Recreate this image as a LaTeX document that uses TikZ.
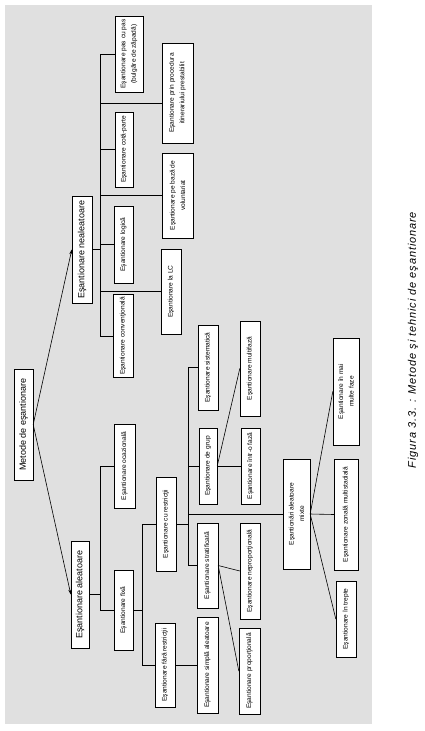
\documentclass[tikz,border=0pt]{standalone}
\usepackage{fontspec}
\setmainfont{Liberation Sans}
\usetikzlibrary{arrows.meta}
\definecolor{bggray}{HTML}{E0E0E0}
\tikzset{
  box/.style={draw, fill=white, rotate=90, inner sep=1pt, align=center,
    font=\fontsize{6.6}{10.5}\selectfont},
  bigbox/.style={box, font=\fontsize{9}{11}\selectfont},
  link/.style={line width=0.6pt},
  pick/.style={line width=0.6pt, -{Stealth[length=5pt,width=3pt]}}
}
\begin{document}
\begin{tikzpicture}[x=1pt, y=-1pt]
                \useasboundingbox (0,0) rectangle (424,731);
                % Background
                \fill[bggray] (5,5) rectangle (372,724);
                % Root and the two families
                \node[bigbox, minimum width=111pt, minimum height=19pt] (metode) at (23.5,424.5) {Metode de eşantionare};
                \node[bigbox, minimum width=107pt, minimum height=20pt] (neal) at (82,249.5) {Eşantionare nealeatoare};
                \node[bigbox, minimum width=107pt, minimum height=18pt] (aleat) at (80,594.5) {Eşantionare aleatoare};
                % Non-random techniques
                \node[box, minimum width=76pt, minimum height=28pt] (pas) at (129,54) {Eşantionare pas cu pas\\(bulgăre de zăpadă)};
                \node[box, minimum width=100pt, minimum height=31pt] (itin) at (177.5,93) {Eşantionare prin procedura\\itinerariului prestabilit};
                \node[box, minimum width=75pt, minimum height=18pt] (cota) at (124,149.5) {Eşantionare cotă-parte};
                \node[box, minimum width=85pt, minimum height=31pt] (volunt) at (177.5,195.5) {Eşantionare pe bază de\\voluntariat};
                \node[box, minimum width=77pt, minimum height=19pt] (logica) at (123.5,244.5) {Eşantionare logică};
                \node[box, minimum width=85pt, minimum height=20pt] (lc) at (171,291.5) {Eşantionare la LC};
                \node[box, minimum width=83pt, minimum height=20pt] (conv) at (123,336) {Eşantionare convenţională};
                % Random techniques
                \node[box, minimum width=84pt, minimum height=21pt] (ocaz) at (124.5,466) {Eşantionare ocazională};
                \node[box, minimum width=80pt, minimum height=19pt] (fixa) at (123.5,610) {Eşantionare fixă};
                \node[box, minimum width=94pt, minimum height=20pt] (cur) at (166,524) {Eşantionare cu restricţii};
                \node[box, minimum width=84pt, minimum height=20pt] (farar) at (165,665) {Eşantionare fără restricţii};
                \node[box, minimum width=85pt, minimum height=20pt] (sist) at (208,367.5) {Eşantionare sistematică};
                \node[box, minimum width=76pt, minimum height=18pt] (grup) at (208,466) {Eşantionare de grup};
                \node[box, minimum width=85pt, minimum height=21pt] (strat) at (207.5,565.5) {Eşantionare stratificată};
                \node[box, minimum width=96pt, minimum height=21pt] (simpla) at (207.5,665) {Eşantionare simplă aleatoare};
                \node[box, minimum width=95pt, minimum height=20pt] (multi) at (250,368.5) {Eşantionare multifază};
                \node[box, minimum width=76pt, minimum height=19pt] (ofaza) at (250.5,466) {Eşantionare într-o fază};
                \node[box, minimum width=96pt, minimum height=20pt] (neprop) at (250,571) {Eşantionare neproporţională};
                \node[box, minimum width=86pt, minimum height=21pt] (prop) at (249.5,671) {Eşantionare proporţională};
                \node[box, minimum width=110pt, minimum height=27pt] (mixte) at (296.5,514) {Eşantionări aleatoare\\mixte};
                \node[box, minimum width=107pt, minimum height=26pt] (maimulte) at (346,391.5) {Eşantionare în mai\\multe faze};
                \node[box, minimum width=111pt, minimum height=24pt] (zonala) at (346,514.5) {Eşantionare zonală multistadială};
                \node[box, minimum width=76pt, minimum height=20pt] (trepte) at (346,619) {Eşantionare în trepte};
                % Trunk points
                \coordinate (nt) at (100,54);
                \coordinate (nb) at (100,336);
                \coordinate (at) at (100,466);
                \coordinate (ab) at (100,610);
                \coordinate (ft) at (142,524);
                \coordinate (fb) at (142,665);
                \coordinate (ct) at (188,367.5);
                \coordinate (cb) at (188,565.5);
                % Arrows from the root
                \draw[pick] (metode.south) -- (neal.north);
                \draw[pick] (metode.south) -- (aleat.north);
                % Non-random tree
                \draw[link] (neal.south) -- (neal.south -| nt);
                \draw[link] (nt) -- (nb);
                \foreach \n in {pas,cota,volunt,logica,lc,conv}
                    \draw[link] (\n.north) -- (\n.north -| nt);
                \draw[link] (itin.north |- 0,103) -- (nt |- 0,103);
                % Random tree
                \draw[link] (aleat.south) -- (aleat.south -| at);
                \draw[link] (at) -- (ab);
                \foreach \n in {ocaz,fixa}
                    \draw[link] (\n.north) -- (\n.north -| at);
                \draw[link] (fixa.south) -- (fixa.south -| ft);
                \draw[link] (ft) -- (fb);
                \foreach \n in {cur,farar}
                    \draw[link] (\n.north) -- (\n.north -| ft);
                \draw[link] (cur.south) -- (cur.south -| ct);
                \draw[link] (ct) -- (cb);
                \foreach \n in {sist,grup,strat}
                    \draw[link] (\n.north) -- (\n.north -| ct);
                \draw[link] (mixte.north -| ct) -- (mixte.north);
                \draw[link] (farar.south) -- (simpla.north);
                % Fan-out links
                \foreach \a/\b in {grup/ofaza, grup/multi, strat/neprop, strat/prop, mixte/maimulte, mixte/zonala, mixte/trepte}
                    \draw[link] (\a.south) -- (\b.north);
                % Caption
                \node[rotate=90, font=\fontsize{11}{13}\selectfont\itshape\addfontfeatures{LetterSpace=8}] (caption) at (413,340) {Figura 3.3. : Metode şi tehnici de eşantionare};
            \end{tikzpicture}
\end{document}
